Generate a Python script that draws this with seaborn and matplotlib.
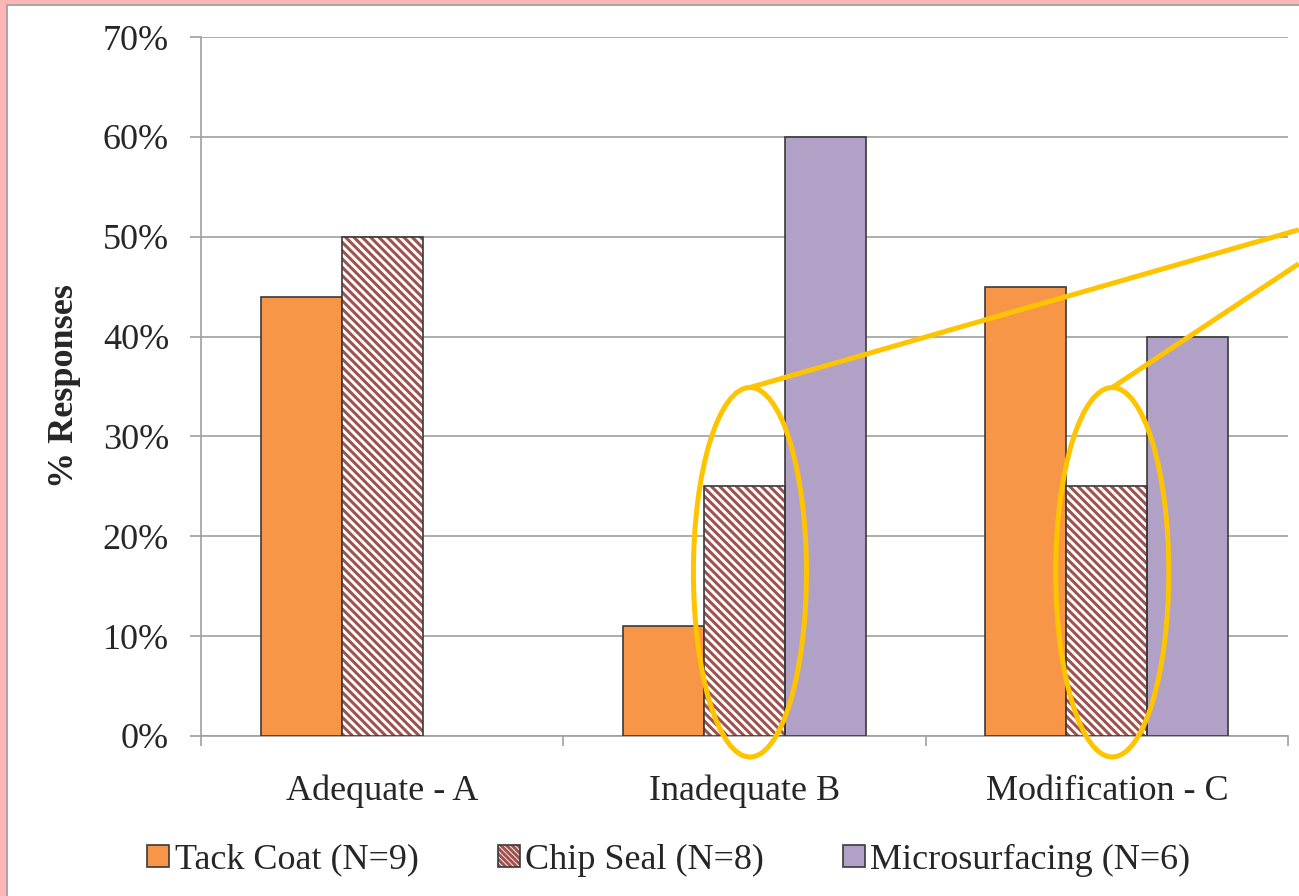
import numpy as np
import pandas as pd
import matplotlib
matplotlib.use("Agg")
import matplotlib.pyplot as plt
from matplotlib.patches import Rectangle, Ellipse, Patch
from matplotlib.ticker import FuncFormatter, FixedLocator
from matplotlib.legend_handler import HandlerTuple
import seaborn as sns

# data
categories = ["Adequate - A", "Inadequate B", "Modification - C"]
series = ["Tack Coat (N=9)", "Chip Seal (N=8)", "Microsurfacing (N=6)"]
tack_coat = [44, 11, 45]
chip_seal = [50, 25, 25]
microsurfacing = [0, 60, 40]
circled = [1, 2]  # chip seal bars that are circled

df = pd.DataFrame({
    "category": categories * 3,
    "series": [series[0]] * 3 + [series[1]] * 3 + [series[2]] * 3,
    "pct": tack_coat + chip_seal + microsurfacing,
})

sns.set_style("white")
plt.rcParams["font.family"] = ["Liberation Serif", "DejaVu Serif"]
plt.rcParams["hatch.linewidth"] = 2.2

orange = "#F79646"
brown = "#A0524E"
purple = "#B1A1C6"
edge = "#3A3A3A"
gold = "#FFC400"
hatch = "\\\\\\\\"

fig = plt.figure(figsize=(12.99, 8.96), dpi=100)

# pink slide frame
fig.patches.append(Rectangle((0, 0), 1, 1, transform=fig.transFigure,
                             facecolor="#FFB6B6", edgecolor="none", zorder=-10))
fig.patches.append(Rectangle((7 / 1299, -0.1), 1.1, 1 - 5 / 896 + 0.1,
                             transform=fig.transFigure, facecolor="white",
                             edgecolor="#A8A8A8", linewidth=1.5, zorder=-9))

ax = fig.add_axes([201 / 1299, 1 - 736 / 896, (1288 - 201) / 1299, (736 - 37) / 896])
ax.patch.set_alpha(0)

sns.barplot(data=df, x="category", y="pct", hue="series", order=categories,
            hue_order=series, palette=[orange, "white", purple], width=0.67,
            saturation=1, edgecolor=edge, linewidth=1.2, legend=False, ax=ax,
            zorder=3)

# hatch the chip seal bars (hatch takes edge colour, so redraw the outline)
for bar in ax.containers[1]:
    bar.set_hatch(hatch)
    bar.set_edgecolor(brown)
    bar.set_linewidth(0)
    ax.add_patch(Rectangle(bar.get_xy(), bar.get_width(), bar.get_height(),
                           fill=False, edgecolor=edge, linewidth=1.2, zorder=4))

# no outline for empty bars
for bar in ax.patches:
    if bar.get_height() == 0:
        bar.set_linewidth(0)

ax.set_ylim(0, 70)
ax.set_xlim(-0.5, 2.5)
ax.set_yticks(np.arange(0, 71, 10))
ax.yaxis.set_major_formatter(FuncFormatter(lambda v, p: f"{v:.0f}%"))
ax.yaxis.grid(True, color="#A0A0A0", linewidth=1.2, zorder=0)
ax.set_axisbelow(True)

for s in ["top", "right"]:
    ax.spines[s].set_visible(False)
for s in ["left", "bottom"]:
    ax.spines[s].set_color("#A0A0A0")
    ax.spines[s].set_linewidth(1.2)

ax.tick_params(axis="y", length=8, width=1.2, color="#A0A0A0", pad=15,
               labelsize=26, left=True)
ax.tick_params(axis="x", which="major", length=0, pad=28, labelsize=26)
ax.xaxis.set_minor_locator(FixedLocator([-0.5, 0.5, 1.5, 2.5]))
ax.tick_params(axis="x", which="minor", length=7, width=1.2, color="#A0A0A0",
               bottom=True)
ax.set_xlabel("")
ax.set_ylabel("% Responses", fontsize=26, fontweight="bold", labelpad=16)

# gold annotation ellipses and callout lines
line_ends = [50.7, 47.3]
for i, yend in zip(circled, line_ends):
    ax.add_patch(Ellipse((i + 0.015, 16.4), 0.312, 37, fill=False,
                         edgecolor=gold, linewidth=3.6, zorder=6, clip_on=False))
    ax.plot([i + 0.015, 2.53], [34.9, yend], color=gold, linewidth=3.6,
            zorder=6, clip_on=False, solid_capstyle="butt")

handles = [
    Patch(facecolor=orange, edgecolor=edge, linewidth=1.2),
    (Patch(facecolor="white", edgecolor=brown, hatch="\\\\\\\\\\\\", linewidth=0),
     Patch(fill=False, edgecolor=edge, linewidth=1.2)),
    Patch(facecolor=purple, edgecolor=edge, linewidth=1.2),
]
fig.legend(handles, series, loc="center", bbox_to_anchor=(0.515, 0.04),
           ncol=3, frameon=False, fontsize=26, handlelength=0.6,
           handleheight=0.6, handletextpad=0.15, columnspacing=2.2,
           handler_map={tuple: HandlerTuple(ndivide=1)})

fig.savefig("out.png", dpi=100)
